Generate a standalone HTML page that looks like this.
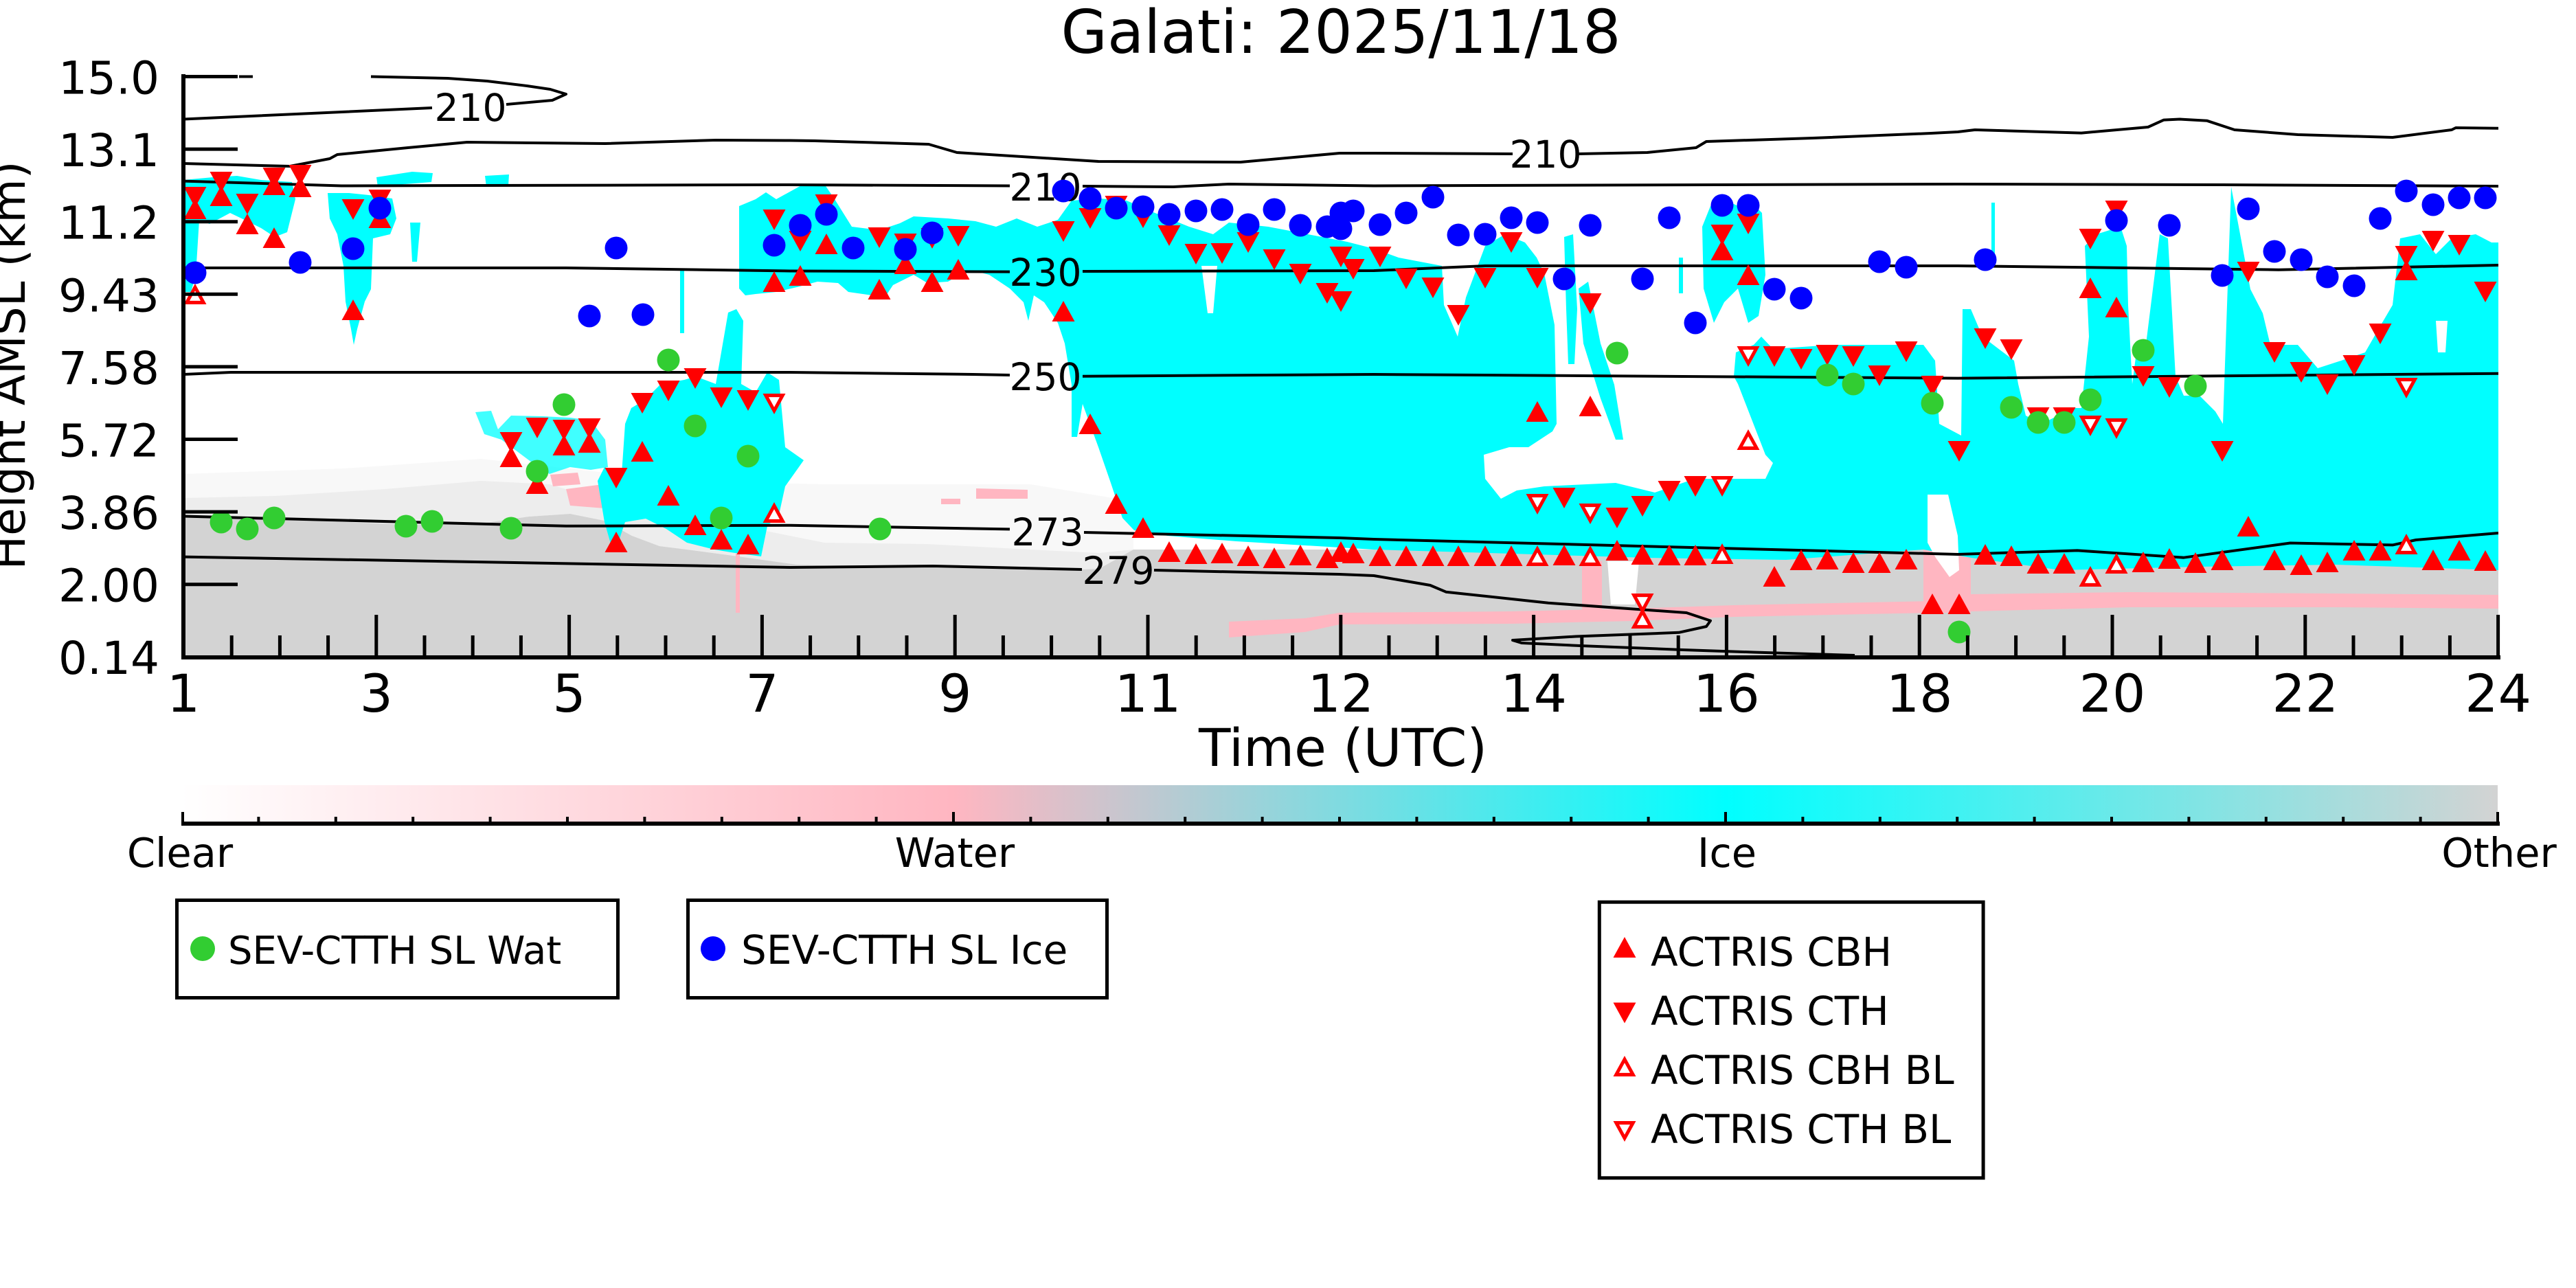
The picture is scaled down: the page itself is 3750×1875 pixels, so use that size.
<!DOCTYPE html>
<html><head><meta charset="utf-8"><style>html,body{margin:0;padding:0;background:#fff}svg{display:block}</style></head>
<body>
<svg xmlns="http://www.w3.org/2000/svg" width="3750" height="1875" viewBox="0 0 3750 1875" font-family="'DejaVu Sans','Liberation Sans',sans-serif">
<defs>
<clipPath id="pa"><rect x="267" y="108" width="3370" height="849"/></clipPath>
<linearGradient id="cbg" x1="0" x2="1" y1="0" y2="0">
<stop offset="0" stop-color="#ffffff"/><stop offset="0.3333" stop-color="#ffb6c1"/><stop offset="0.6667" stop-color="#00ffff"/><stop offset="1" stop-color="#d3d3d3"/>
</linearGradient>
<path id="tu" d="M0,-15 L16.5,15 L-16.5,15 Z" fill="#ff0000"/>
<path id="td" d="M0,15 L16.5,-15 L-16.5,-15 Z" fill="#ff0000"/>
<g id="tuh"><path d="M0,-15 L16.5,15 L-16.5,15 Z" fill="#ff0000"/><path d="M0,-4.8 L8,9.9 L-8,9.9 Z" fill="#ffffff"/></g>
<g id="tdh"><path d="M0,15 L16.5,-15 L-16.5,-15 Z" fill="#ff0000"/><path d="M0,4.8 L8,-9.9 L-8,-9.9 Z" fill="#ffffff"/></g>
</defs>

<!-- Title -->
<text x="1952" y="77" font-size="87" text-anchor="middle">Galati: 2025/11/18</text>

<g clip-path="url(#pa)">
<!-- Gray speckle zones -->
<path d="M267,690 L500,682 L700,668 L900,690 L1000,700 L1200,705 L1500,705 L1650,730 L1650,800 L1600,805 L1500,800 L1350,792 L1200,790 L1100,770 L1000,760 L900,735 L800,705 L700,700 L560,712 L400,722 L267,725 Z" fill="#d3d3d3" fill-opacity="0.15"/>
<path d="M267,725 L400,722 L560,712 L700,700 L800,705 L900,735 L1000,760 L1100,770 L1200,790 L1350,792 L1500,800 L1600,805 L1650,800 L1600,828 L1550,830 L1450,826 L1350,823 L1250,825 L1160,822 L1110,815 L1060,808 L1000,800 L960,795 L920,780 L880,758 L830,748 L770,752 L700,762 L600,764 L500,760 L420,756 L330,752 L267,754 Z" fill="#d3d3d3" fill-opacity="0.4"/>
<!-- Gray solid -->
<path d="M267,754 L330,752 L420,756 L500,760 L600,764 L700,762 L770,752 L830,748 L880,758 L920,780 L960,795 L1000,800 L1060,808 L1110,815 L1160,822 L1250,825 L1350,823 L1450,826 L1550,830 L1600,828 L1650,800 L3637,800 L3637,957 L267,957 Z" fill="#d3d3d3"/>

<!-- Pink -->
<path d="M1789,905 L1900,900 L1950,892 L2200,890 L2375,886 L2524,881 L2811,875 L2870,865 L3100,862 L3400,864 L3637,866 L3637,886 L3400,884 L3100,884 L2870,890 L2811,892 L2524,898 L2375,904 L2200,908 L1950,909 L1900,920 L1789,928 Z" fill="#ffb6c1"/>
<rect x="2303" y="817" width="29" height="72" fill="#ffb6c1"/>
<rect x="2800" y="790" width="69" height="102" fill="#ffb6c1"/>
<path d="M801,691 L841,688 L845,705 L805,708 Z" fill="#ffb6c1"/>
<path d="M824,712 L870,706 L939,714 L942,736 L880,740 L830,736 Z" fill="#ffb6c1"/>
<path d="M1421,711 L1496,713 L1496,726 L1421,726 Z" fill="#ffb6c1"/>
<path d="M1370,726 L1398,726 L1398,734 L1370,734 Z" fill="#ffb6c1"/>
<rect x="1071" y="806" width="6" height="86" fill="#ffb6c1"/>
<path d="M2340,817 L2386,817 L2380,880 L2345,880 Z" fill="#ffffff"/>

<!-- Cyan -->
<g fill="#00ffff">
<path d="M267,262 L310,258 L345,256 L380,262 L425,265 L430,290 L425,310 L418,338 L400,345 L380,332 L360,322 L335,310 L305,326 L290,320 L285,400 L278,425 L267,425 Z"/>
<path d="M548,258 L600,250 L630,252 L628,265 L590,268 L550,272 Z"/>
<path d="M706,256 L741,254 L740,270 L708,272 Z"/>
<path d="M597,324 L612,324 L607,381 L600,381 Z"/>
<path d="M477,281 L508,281 L537,284 L571,289 L577,318 L568,341 L543,347 L540,421 L531,439 L520,479 L515,502 L511,479 L503,439 L500,387 L491,341 L480,318 Z"/>
<path d="M905,690 L910,617 L919,594 L939,582 L962,559 L996,553 L1013,548 L1042,559 L1060,455 L1072,450 L1082,467 L1079,559 L1100,571 L1117,542 L1134,553 L1143,651 L1170,670 L1143,708 L1134,749 L1117,766 L1108,810 L1070,805 L1040,800 L1000,790 L970,770 L940,755 L910,760 L900,790 L890,795 L880,760 L870,700 L880,680 Z"/>
<path d="M990,393 L996,393 L996,485 L990,485 Z"/>
<path fill-opacity="0.75" d="M692,600 L715,598 L725,625 L744,605 L790,606 L830,608 L860,612 L881,640 L885,680 L860,684 L830,680 L800,690 L770,670 L750,655 L730,640 L705,632 Z"/>
<path d="M1076,300 L1100,290 L1115,280 L1130,290 L1170,268 L1200,268 L1215,290 L1240,330 L1280,335 L1310,325 L1330,315 L1380,318 L1420,322 L1450,330 L1480,318 L1510,330 L1540,320 L1560,292 L1600,289 L1640,292 L1674,307 L1731,330 L1766,341 L1789,324 L1846,330 L1904,341 L1961,352 L2000,362 L2036,375 L2099,387 L2102,444 L2122,490 L2134,433 L2162,358 L2191,341 L2220,353 L2237,375 L2248,398 L2263,473 L2266,617 L2260,628 L2225,651 L2197,651 L2160,662 L2162,697 L2185,726 L2208,714 L2248,708 L2352,703 L2409,717 L2467,697 L2570,697 L2581,674 L2570,662 L2530,559 L2524,548 L2527,513 L2553,502 L2564,490 L2581,508 L2667,502 L2754,502 L2800,502 L2817,525 L2823,617 L2855,634 L2857,450 L2869,450 L2886,490 L2932,525 L2938,559 L2949,605 L2972,617 L3018,594 L3030,594 L3041,490 L3035,358 L3052,341 L3087,330 L3096,358 L3098,444 L3104,559 L3110,513 L3121,525 L3144,341 L3156,347 L3167,548 L3179,576 L3202,576 L3225,599 L3236,617 L3242,444 L3248,272 L3259,330 L3276,421 L3294,456 L3305,502 L3345,502 L3374,536 L3408,525 L3443,513 L3466,473 L3483,444 L3494,347 L3523,341 L3546,370 L3569,347 L3604,341 L3627,353 L3637,353 L3637,830 L3400,822 L3200,825 L3000,830 L2870,812 L2800,800 L2600,815 L2400,812 L2000,800 L1800,788 L1700,780 L1651,772 L1634,754 L1617,703 L1599,651 L1576,588 L1568,636 L1560,636 L1560,560 L1550,500 L1540,470 L1520,440 L1505,430 L1497,467 L1490,440 L1470,420 L1440,400 L1421,395 L1400,398 L1380,410 L1350,412 L1330,400 L1300,415 L1290,430 L1270,430 L1235,425 L1220,412 L1190,410 L1160,418 L1130,425 L1100,428 L1085,430 L1076,420 Z"/>
<path d="M2277,345 L2290,341 L2296,450 L2292,530 L2283,530 L2280,450 Z"/>
<path d="M2298,420 L2312,410 L2330,500 L2350,560 L2363,640 L2352,640 L2330,580 L2305,500 Z"/>
<path d="M2444,375 L2450,375 L2450,427 L2444,427 Z"/>
<path d="M2490,300 L2510,290 L2530,300 L2550,295 L2565,310 L2570,400 L2560,460 L2545,470 L2530,420 L2510,440 L2495,470 L2480,420 L2478,330 Z"/>
<path d="M2899,295 L2904,295 L2904,375 L2899,375 Z"/>
</g>
<!-- white holes -->
<path d="M1749,387 L1772,387 L1766,456 L1758,456 Z" fill="#fff"/>
<path d="M3546,467 L3563,467 L3560,513 L3549,513 Z" fill="#fff"/>
<path d="M2806,720 L2836,720 L2850,780 L2852,830 L2838,840 L2818,812 L2806,790 Z" fill="#fff"/>

<!-- Contours -->
<g fill="none" stroke="#000" stroke-width="4" stroke-linejoin="round">
<path d="M267,173.5 L629,157 M737,152 L804,146 L824,137 L801,130 L767,125 L709,118 L652,114 L540,111.5 M348,111.5 L368,111.5"/>
<path d="M267,238 L422,242 L480,231 L491,225 L594,215 L680,207 L881,209 L1042,204 L1150,204.5 L1186,205 L1352,210 L1393,222 L1599,235 L1806,236 L1950,223 L2000,223 L2202,224 M2297,224 L2398,222 L2469,215 L2484,206 L2639,201 L2811,194 L2850,192 L2875,189 L3030,193.6 L3127,185 L3150,174.6 L3173,173.5 L3213,175.8 L3253,189 L3345,196 L3483,200 L3569,189 L3575,186 L3637,186.7"/>
<path d="M267,263.6 L497,270.5 L1150,269 L1470,270.5 M1576,271 L1708,272 L1789,268 L2000,270.5 L2850,268 L3236,269 L3637,271"/>
<path d="M267,390 L824,390 L1150,394.5 L1470,395.6 M1576,395 L2000,394 L2162,387 L2850,387 L3317,392.7 L3637,386"/>
<path d="M267,545 L336,542 L1150,542 L1416,545 L1470,546 M1576,547.7 L2000,545 L2850,550.6 L3637,543.7"/>
<path d="M267,751.5 L824,765.8 L1150,764.7 L1470,770.4 M1578,775 L1950,783 L2000,785 L2850,807 L3024,801.4 L3179,811.7 L3334,790.5 L3483,793.4 L3517,786 L3637,776"/>
<path d="M267,810.6 L1150,826 L1358,824 L1575,829 M1680,830 L1950,836 L2000,838 L2082,852 L2105,861.7 L2254,877.8 L2455,892 L2490,903.6 L2484,912 L2444,920.8 L2294,926.5 L2202,932 L2215,936 L2300,940 L2450,946 L2553,949.5 L2700,954"/>
</g>
<g font-size="55" text-anchor="middle" fill="#000">
<text x="685" y="176">210</text>
<text x="2250" y="244">210</text>
<text x="1522" y="292">210</text>
<text x="1522" y="416">230</text>
<text x="1522" y="568">250</text>
<text x="1525" y="794">273</text>
<text x="1628" y="850">279</text>
</g>

<!-- Triangles -->
<g>
<use href="#tu" x="284" y="304"/><use href="#tu" x="322" y="285"/><use href="#tu" x="360" y="326"/><use href="#tu" x="399" y="269"/><use href="#tu" x="437" y="272"/><use href="#tu" x="399" y="346"/><use href="#tu" x="514" y="451"/><use href="#tu" x="553" y="317"/><use href="#tu" x="744" y="665"/><use href="#tu" x="782" y="704"/><use href="#tu" x="821" y="648"/><use href="#tu" x="858" y="644"/><use href="#tu" x="897" y="789"/><use href="#tu" x="935" y="657"/><use href="#tu" x="973" y="721"/><use href="#tu" x="1012" y="764"/><use href="#tu" x="1050" y="785"/><use href="#tu" x="1089" y="792"/><use href="#tu" x="1127" y="410"/><use href="#tu" x="1165" y="401"/><use href="#tu" x="1203" y="355"/><use href="#tu" x="1280" y="421"/><use href="#tu" x="1318" y="384"/><use href="#tu" x="1357" y="410"/><use href="#tu" x="1395" y="392"/><use href="#tu" x="1548" y="453"/><use href="#tu" x="1587" y="617"/><use href="#tu" x="1625" y="733"/><use href="#tu" x="1664" y="768"/><use href="#tu" x="1702" y="803"/><use href="#tu" x="1741" y="806"/><use href="#tu" x="1779" y="805"/><use href="#tu" x="1817" y="809"/><use href="#tu" x="1855" y="812"/><use href="#tu" x="1893" y="808"/><use href="#tu" x="1932" y="812"/><use href="#tu" x="1952" y="803"/><use href="#tu" x="1970" y="805"/><use href="#tu" x="2009" y="809"/><use href="#tu" x="2047" y="809"/><use href="#tu" x="2086" y="809"/><use href="#tu" x="2123" y="809"/><use href="#tu" x="2162" y="809"/><use href="#tu" x="2200" y="809"/><use href="#tu" x="2238" y="599"/><use href="#tu" x="2277" y="808"/><use href="#tu" x="2315" y="591"/><use href="#tu" x="2354" y="801"/><use href="#tu" x="2391" y="807"/><use href="#tu" x="2430" y="808"/><use href="#tu" x="2468" y="808"/><use href="#tu" x="2507" y="364"/><use href="#tu" x="2545" y="400"/><use href="#tu" x="2583" y="839"/><use href="#tu" x="2622" y="815"/><use href="#tu" x="2660" y="814"/><use href="#tu" x="2698" y="819"/><use href="#tu" x="2736" y="819"/><use href="#tu" x="2775" y="814"/><use href="#tu" x="2813" y="879"/><use href="#tu" x="2852" y="879"/><use href="#tu" x="2890" y="807"/><use href="#tu" x="2928" y="809"/><use href="#tu" x="2967" y="820"/><use href="#tu" x="3005" y="820"/><use href="#tu" x="3043" y="419"/><use href="#tu" x="3081" y="447"/><use href="#tu" x="3120" y="818"/><use href="#tu" x="3158" y="813"/><use href="#tu" x="3196" y="819"/><use href="#tu" x="3235" y="815"/><use href="#tu" x="3273" y="766"/><use href="#tu" x="3311" y="815"/><use href="#tu" x="3350" y="822"/><use href="#tu" x="3388" y="818"/><use href="#tu" x="3427" y="801"/><use href="#tu" x="3465" y="801"/><use href="#tu" x="3503" y="393"/><use href="#tu" x="3542" y="815"/><use href="#tu" x="3580" y="801"/><use href="#tu" x="3618" y="816"/>

<use href="#td" x="284" y="287"/><use href="#td" x="322" y="265"/><use href="#td" x="360" y="297"/><use href="#td" x="399" y="259"/><use href="#td" x="437" y="255"/><use href="#td" x="514" y="305"/><use href="#td" x="553" y="291"/><use href="#td" x="744" y="644"/><use href="#td" x="782" y="623"/><use href="#td" x="821" y="626"/><use href="#td" x="858" y="624"/><use href="#td" x="897" y="696"/><use href="#td" x="935" y="587"/><use href="#td" x="973" y="569"/><use href="#td" x="1012" y="551"/><use href="#td" x="1050" y="579"/><use href="#td" x="1089" y="583"/><use href="#td" x="1127" y="320"/><use href="#td" x="1165" y="351"/><use href="#td" x="1203" y="298"/><use href="#td" x="1280" y="346"/><use href="#td" x="1318" y="355"/><use href="#td" x="1357" y="347"/><use href="#td" x="1395" y="344"/><use href="#td" x="1548" y="337"/><use href="#td" x="1587" y="318"/><use href="#td" x="1625" y="300"/><use href="#td" x="1664" y="317"/><use href="#td" x="1702" y="343"/><use href="#td" x="1741" y="370"/><use href="#td" x="1779" y="369"/><use href="#td" x="1817" y="353"/><use href="#td" x="1855" y="378"/><use href="#td" x="1893" y="399"/><use href="#td" x="1932" y="427"/><use href="#td" x="1952" y="439"/><use href="#td" x="1952" y="374"/><use href="#td" x="1970" y="392"/><use href="#td" x="2009" y="374"/><use href="#td" x="2047" y="406"/><use href="#td" x="2086" y="419"/><use href="#td" x="2123" y="459"/><use href="#td" x="2162" y="405"/><use href="#td" x="2200" y="353"/><use href="#td" x="2238" y="405"/><use href="#td" x="2277" y="725"/><use href="#td" x="2315" y="442"/><use href="#td" x="2354" y="754"/><use href="#td" x="2391" y="737"/><use href="#td" x="2430" y="715"/><use href="#td" x="2468" y="708"/><use href="#td" x="2507" y="342"/><use href="#td" x="2545" y="326"/><use href="#td" x="2583" y="519"/><use href="#td" x="2622" y="523"/><use href="#td" x="2660" y="517"/><use href="#td" x="2698" y="519"/><use href="#td" x="2736" y="547"/><use href="#td" x="2775" y="512"/><use href="#td" x="2813" y="562"/><use href="#td" x="2852" y="657"/><use href="#td" x="2890" y="493"/><use href="#td" x="2928" y="509"/><use href="#td" x="2967" y="608"/><use href="#td" x="3005" y="608"/><use href="#td" x="3043" y="348"/><use href="#td" x="3081" y="307"/><use href="#td" x="3120" y="548"/><use href="#td" x="3158" y="564"/><use href="#td" x="3235" y="657"/><use href="#td" x="3273" y="396"/><use href="#td" x="3311" y="513"/><use href="#td" x="3350" y="542"/><use href="#td" x="3388" y="560"/><use href="#td" x="3427" y="532"/><use href="#td" x="3465" y="486"/><use href="#td" x="3503" y="373"/><use href="#td" x="3542" y="351"/><use href="#td" x="3580" y="357"/><use href="#td" x="3618" y="425"/>

<use href="#tuh" x="284" y="428"/><use href="#tuh" x="1127" y="746"/><use href="#tuh" x="2238" y="809"/><use href="#tuh" x="2315" y="809"/><use href="#tuh" x="2391" y="900"/><use href="#tuh" x="2507" y="806"/><use href="#tuh" x="2545" y="640"/><use href="#tuh" x="3043" y="839"/><use href="#tuh" x="3081" y="820"/><use href="#tuh" x="3503" y="792"/>

<use href="#tdh" x="1127" y="588"/><use href="#tdh" x="2238" y="734"/><use href="#tdh" x="2315" y="748"/><use href="#tdh" x="2391" y="879"/><use href="#tdh" x="2507" y="708"/><use href="#tdh" x="2545" y="519"/><use href="#tdh" x="3043" y="620"/><use href="#tdh" x="3081" y="624"/><use href="#tdh" x="3503" y="565"/>
</g>

<!-- Green circles -->
<g fill="#32cd32">
<circle cx="322" cy="760" r="16.5"/><circle cx="360" cy="770" r="16.5"/><circle cx="399" cy="754" r="16.5"/><circle cx="591" cy="766" r="16.5"/><circle cx="629" cy="759" r="16.5"/><circle cx="744" cy="769" r="16.5"/><circle cx="973" cy="524" r="16.5"/><circle cx="821" cy="589" r="16.5"/><circle cx="782" cy="686" r="16.5"/><circle cx="1012" cy="620" r="16.5"/><circle cx="1089" cy="664" r="16.5"/><circle cx="1050" cy="754" r="16.5"/><circle cx="1281" cy="770" r="16.5"/><circle cx="2354" cy="514" r="16.5"/><circle cx="2660" cy="546" r="16.5"/><circle cx="2698" cy="559" r="16.5"/><circle cx="2813" cy="587" r="16.5"/><circle cx="2852" cy="920" r="16.5"/><circle cx="2928" cy="593" r="16.5"/><circle cx="2967" cy="615" r="16.5"/><circle cx="3005" cy="615" r="16.5"/><circle cx="3043" cy="582" r="16.5"/><circle cx="3120" cy="510" r="16.5"/><circle cx="3196" cy="562" r="16.5"/>
</g>
<!-- Blue circles -->
<g fill="#0000ff">
<circle cx="284" cy="397" r="16.5"/><circle cx="437" cy="382" r="16.5"/><circle cx="514" cy="362" r="16.5"/><circle cx="553" cy="303" r="16.5"/><circle cx="897" cy="361" r="16.5"/><circle cx="858" cy="460" r="16.5"/><circle cx="936" cy="458" r="16.5"/><circle cx="1127" cy="357" r="16.5"/><circle cx="1165" cy="328" r="16.5"/><circle cx="1203" cy="312" r="16.5"/><circle cx="1242" cy="361" r="16.5"/><circle cx="1318" cy="363" r="16.5"/><circle cx="1357" cy="339" r="16.5"/><circle cx="1548" cy="278" r="16.5"/><circle cx="1587" cy="289" r="16.5"/><circle cx="1625" cy="303" r="16.5"/><circle cx="1664" cy="301" r="16.5"/><circle cx="1702" cy="312" r="16.5"/><circle cx="1741" cy="307" r="16.5"/><circle cx="1779" cy="305" r="16.5"/><circle cx="1817" cy="327" r="16.5"/><circle cx="1855" cy="305" r="16.5"/><circle cx="1893" cy="328" r="16.5"/><circle cx="1932" cy="330" r="16.5"/><circle cx="1952" cy="310" r="16.5"/><circle cx="1952" cy="333" r="16.5"/><circle cx="1970" cy="307" r="16.5"/><circle cx="2009" cy="327" r="16.5"/><circle cx="2047" cy="310" r="16.5"/><circle cx="2086" cy="287" r="16.5"/><circle cx="2123" cy="342" r="16.5"/><circle cx="2162" cy="341" r="16.5"/><circle cx="2200" cy="317" r="16.5"/><circle cx="2238" cy="324" r="16.5"/><circle cx="2277" cy="406" r="16.5"/><circle cx="2315" cy="328" r="16.5"/><circle cx="2391" cy="406" r="16.5"/><circle cx="2430" cy="317" r="16.5"/><circle cx="2468" cy="470" r="16.5"/><circle cx="2507" cy="299" r="16.5"/><circle cx="2545" cy="299" r="16.5"/><circle cx="2583" cy="421" r="16.5"/><circle cx="2622" cy="434" r="16.5"/><circle cx="2736" cy="381" r="16.5"/><circle cx="2775" cy="389" r="16.5"/><circle cx="2890" cy="378" r="16.5"/><circle cx="3081" cy="321" r="16.5"/><circle cx="3158" cy="328" r="16.5"/><circle cx="3235" cy="401" r="16.5"/><circle cx="3273" cy="304" r="16.5"/><circle cx="3311" cy="366" r="16.5"/><circle cx="3350" cy="378" r="16.5"/><circle cx="3388" cy="403" r="16.5"/><circle cx="3427" cy="416" r="16.5"/><circle cx="3465" cy="318" r="16.5"/><circle cx="3503" cy="278" r="16.5"/><circle cx="3542" cy="298" r="16.5"/><circle cx="3580" cy="288" r="16.5"/><circle cx="3618" cy="288" r="16.5"/>
</g>
</g>

<!-- Axes -->
<g stroke="#000" fill="none">
<path d="M267,108 V960 M264,957 H3640" stroke-width="6"/>
<path stroke-width="5" d="M264,111.5 H346 M264,217.1 H346 M264,322.7 H346 M264,428.3 H346 M264,533.9 H346 M264,639.5 H346 M264,745.1 H346 M264,850.7 H346"/>
<path stroke-width="5" d="M547.8,895 V957 M828.6,895 V957 M1109.4,895 V957 M1390.2,895 V957 M1671,895 V957 M1951.8,895 V957 M2232.6,895 V957 M2513.4,895 V957 M2794.2,895 V957 M3075,895 V957 M3355.8,895 V957 M3636.6,895 V957"/>
<path stroke-width="5" d="M337.2,925 V957 M407.4,925 V957 M477.6,925 V957 M618,925 V957 M688.2,925 V957 M758.4,925 V957 M898.8,925 V957 M969,925 V957 M1039.2,925 V957 M1179.6,925 V957 M1249.8,925 V957 M1320,925 V957 M1460.4,925 V957 M1530.6,925 V957 M1600.8,925 V957 M1741.2,925 V957 M1811.4,925 V957 M1881.6,925 V957 M2022,925 V957 M2092.2,925 V957 M2162.4,925 V957 M2302.8,925 V957 M2373,925 V957 M2443.2,925 V957 M2583.6,925 V957 M2653.8,925 V957 M2724,925 V957 M2864.4,925 V957 M2934.6,925 V957 M3004.8,925 V957 M3145.2,925 V957 M3215.4,925 V957 M3285.6,925 V957 M3426,925 V957 M3496.2,925 V957 M3566.4,925 V957"/>
</g>

<!-- Y tick labels -->
<g font-size="66" text-anchor="end">
<text x="232" y="136.5">15.0</text>
<text x="232" y="242">13.1</text>
<text x="232" y="347.7">11.2</text>
<text x="232" y="453.3">9.43</text>
<text x="232" y="559">7.58</text>
<text x="232" y="664.5">5.72</text>
<text x="232" y="770">3.86</text>
<text x="232" y="875.7">2.00</text>
<text x="232" y="981">0.14</text>
</g>
<text transform="translate(36,532) rotate(-90)" font-size="66" text-anchor="middle">Height AMSL (km)</text>

<!-- X tick labels -->
<g font-size="76" text-anchor="middle">
<text x="267" y="1036">1</text>
<text x="547.8" y="1036">3</text>
<text x="828.6" y="1036">5</text>
<text x="1109.4" y="1036">7</text>
<text x="1390.2" y="1036">9</text>
<text x="1671" y="1036">11</text>
<text x="1951.8" y="1036">12</text>
<text x="2232.6" y="1036">14</text>
<text x="2513.4" y="1036">16</text>
<text x="2794.2" y="1036">18</text>
<text x="3075" y="1036">20</text>
<text x="3355.8" y="1036">22</text>
<text x="3636.6" y="1036">24</text>
</g>
<text x="1955" y="1115" font-size="76" text-anchor="middle">Time (UTC)</text>

<!-- Colorbar -->
<rect x="264" y="1143" width="3372" height="54" fill="url(#cbg)"/>
<g stroke="#000" fill="none">
<path d="M264,1199 H3639" stroke-width="6"/>
<path stroke-width="4" d="M266,1182 V1197 M1388,1182 V1197 M2512,1182 V1197 M3636,1182 V1197"/>
<path stroke-width="4" d="M376.4,1189 V1197 M488.8,1189 V1197 M601.2,1189 V1197 M713.6,1189 V1197 M826,1189 V1197 M938.4,1189 V1197 M1050.8,1189 V1197 M1163.2,1189 V1197 M1275.6,1189 V1197 M1500.4,1189 V1197 M1612.8,1189 V1197 M1725.2,1189 V1197 M1837.6,1189 V1197 M1950,1189 V1197 M2062.4,1189 V1197 M2174.8,1189 V1197 M2287.2,1189 V1197 M2399.6,1189 V1197 M2624.4,1189 V1197 M2736.8,1189 V1197 M2849.2,1189 V1197 M2961.6,1189 V1197 M3074,1189 V1197 M3186.4,1189 V1197 M3298.8,1189 V1197 M3411.2,1189 V1197 M3523.6,1189 V1197"/>
</g>
<g font-size="59" text-anchor="middle">
<text x="262" y="1262">Clear</text>
<text x="1390" y="1262">Water</text>
<text x="2514" y="1262">Ice</text>
<text x="3638" y="1262">Other</text>
</g>

<!-- Legends -->
<g fill="none" stroke="#000" stroke-width="5">
<rect x="257.5" y="1310.5" width="642" height="142"/>
<rect x="1001.5" y="1310.5" width="610" height="142"/>
<rect x="2328.3" y="1313.2" width="558.8" height="401.6"/>
</g>
<circle cx="295" cy="1381" r="18" fill="#32cd32"/>
<text x="332" y="1403" font-size="56">SEV-CTTH SL Wat</text>
<circle cx="1038" cy="1381" r="18" fill="#0000ff"/>
<text x="1079" y="1403" font-size="58">SEV-CTTH SL Ice</text>

<use href="#tu" x="2365" y="1379"/>
<use href="#td" x="2365" y="1474.5"/>
<use href="#tuh" x="2365" y="1552"/>
<use href="#tdh" x="2365" y="1647"/>
<g font-size="58">
<text x="2403" y="1406">ACTRIS CBH</text>
<text x="2403" y="1492">ACTRIS CTH</text>
<text x="2403" y="1578">ACTRIS CBH BL</text>
<text x="2403" y="1664">ACTRIS CTH BL</text>
</g>
</svg>
</body></html>
